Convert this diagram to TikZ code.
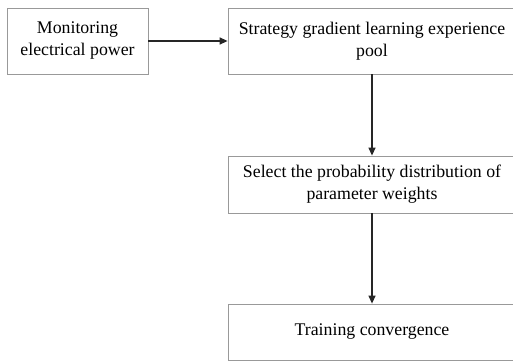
\documentclass[tikz,border=0pt]{standalone}
\usepackage{fontspec}
\setmainfont{Liberation Serif}
\usetikzlibrary{arrows.meta}
\begin{document}
\begin{tikzpicture}[x=1pt,y=-1pt,
  box/.style={draw=black!40,line width=0.8pt,align=center,inner sep=0pt,font=\fontsize{17.8}{22}\selectfont},
  conn/.style={draw=black!85,line width=1.3pt,-{Triangle[length=8pt,width=7pt]}}]
\useasboundingbox (0,0) rectangle (513,361);
\clip (0,0) rectangle (513,361);
\node[box,minimum width=141pt,minimum height=66pt] (mon) at (77.5,41) {Monitoring\\electrical power};
\node[box,minimum width=288pt,minimum height=66pt] (pool) at (372,41) {Strategy gradient learning experience\\pool};
\node[box,minimum width=288pt,minimum height=57pt] (sel) at (372,184.5) {Select the probability distribution of\\parameter weights};
\node[box,minimum width=288pt,minimum height=56pt] (train) at (372,332) {Training convergence};
\draw[conn] (mon) -- (pool);
\draw[conn] (pool) -- (sel);
\draw[conn] (sel) -- (train);
\end{tikzpicture}
\end{document}
